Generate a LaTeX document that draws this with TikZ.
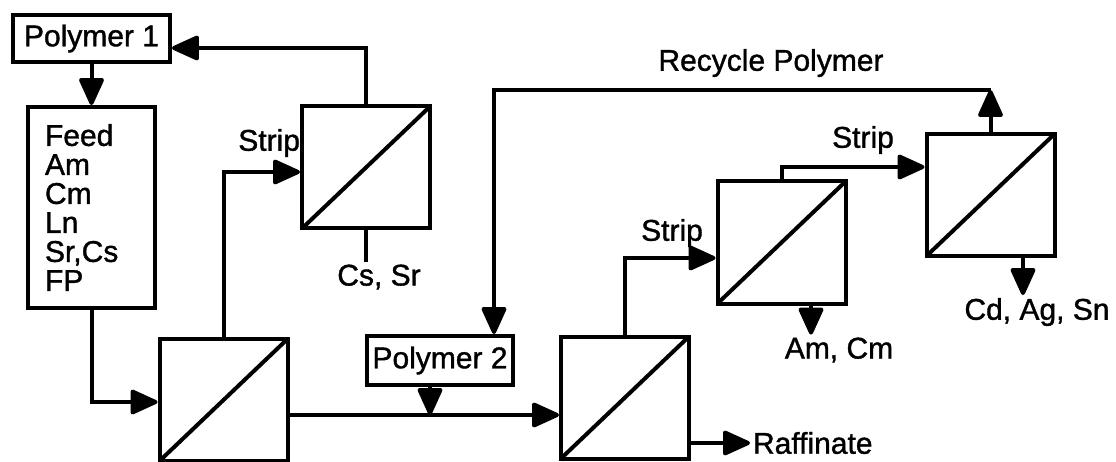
\documentclass[tikz,border=0pt]{standalone}
\usepackage{fontspec}
\setmainfont{Liberation Sans}[BoldFont=Liberation Sans,BoldFeatures={FakeBold=1.2}]
\usepackage{tikz}
\usetikzlibrary{arrows.meta,positioning,calc}

\begin{document}
\begin{tikzpicture}[x=1pt,y=-1pt,line width=4pt,
  font=\fontsize{30}{29}\selectfont\bfseries,
  arr/.style={-{Triangle[length=30pt,width=26pt,round]}},
  box/.style={draw,inner sep=1pt},
  sep/.style={draw,minimum width=128pt,minimum height=122pt,inner sep=0pt,
    path picture={\draw (path picture bounding box.south west) -- (path picture bounding box.north east);}},
  lbl/.style={inner sep=1pt}]
\useasboundingbox (0,0) rectangle (1116,462);
% polymer and feed
\node[box,minimum width=157pt,minimum height=47pt] (pol1) at (91.5,38.5) {Polymer 1};
\node[box,minimum width=127pt,minimum height=201pt,text width=93pt,align=left,inner xsep=17pt] (feed) at (91.5,207.5) {Feed\\Am\\Cm\\Ln\\Sr,Cs\\FP};
\node[box,minimum width=146pt,minimum height=49pt] (pol2) at (440,360.5) {Polymer 2};
% separation stages
\node[sep] (stA) at (223.5,400) {};
\node[sep] (stB) at (366,167.5) {};
\node[sep] (stC) at (625,397.5) {};
\node[sep] (stD) at (781.5,242.5) {};
\node[sep] (stE) at (990.5,195) {};
% labels
\node[lbl,anchor=east] (stripB) at (303,143) {Strip};
\node[lbl] (stripD) at (672,233) {Strip};
\node[lbl] (stripE) at (863,140) {Strip};
\node[lbl] (cssr) at (379,277) {Cs, Sr};
\node[lbl] (amcm) at (839,350) {Am, Cm};
\node[lbl] (cdagsn) at (1037,312) {Cd, Ag, Sn};
\node[lbl,anchor=west] (raf) at (750,443) {Raffinate};
\node[lbl] (rec) at (771,63) {Recycle Polymer};
\coordinate (mix) at (430,415);
\coordinate (recR) at (990.5,90);
\coordinate (recL) at (494,90);
% flows
\draw[arr] (pol1) -- (feed);
\draw[arr] (feed.south) |- ($(stA.west)+(0,2)$);
\draw[arr] (stA.north) |- ($(stB.west)+(0,4.5)$);
\draw[arr] (stB.north) |- ($(pol1.east)+(0,9.5)$);
\draw (stB.south) -- (stB.south |- cssr.north);
\draw[arr] (stA.east |- mix) -- (stC.west |- mix);
\draw[arr] (pol2.south -| mix) -- (mix);
\draw[arr] (stC.north) |- ($(stD.west)+(0,15.5)$);
\draw[arr] ($(stC.east)+(0,45.5)$) -- (raf.west);
\draw[arr] (stD.north) |- ($(stE.west)+(0,-28)$);
\draw[arr] ($(stD.south)+(29.5,0)$) coordinate (dOut) -- (dOut |- amcm.north);
\draw[arr] ($(stE.south)+(32.5,0)$) coordinate (eOut) -- (eOut |- cdagsn.north);
\draw[arr] (stE.north) -- (recR);
\draw[arr] (recR) -- (recL) -- (recL |- pol2.north);
\end{tikzpicture}
\end{document}
